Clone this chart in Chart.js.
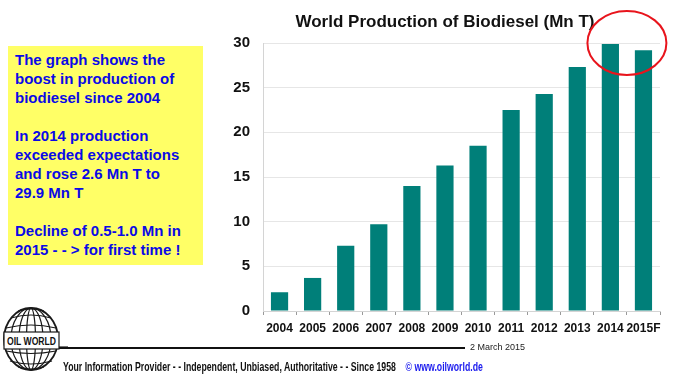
<!DOCTYPE html>
<html>
<head>
<meta charset="utf-8">
<script src="https://cdn.jsdelivr.net/npm/chart.js@4"></script>
<style>
  body { margin: 0; background: #fff; font-family: 'Liberation Sans', Arial, sans-serif; }
  #wrap { position: relative; width: 677px; height: 377px; overflow: hidden; }
  #chartBox { position: absolute; left: 230px; top: 0; width: 447px; height: 377px; }
  .note {
    position: absolute; left: 8px; top: 46px; width: 188px; height: 215px;
    background: #ffff66; color: #0a0ae6; font-weight: bold; font-size: 15px;
    line-height: 19px; padding: 4px 0 0 7px; white-space: nowrap;
  }
  .rule { position: absolute; left: 58px; top: 347px; width: 407px; height: 2px; background: #111; }
  .rule2 { position: absolute; left: 56px; top: 346px; width: 12px; height: 3px; background: #777; }
  .date { position: absolute; left: 470px; top: 342px; font-size: 9px; color: #222; }
  .foot {
    position: absolute; left: 63px; top: 360px; font-weight: bold; font-size: 12px; color: #111;
    white-space: nowrap; transform-origin: 0 0;
  }
  .foot span { color: #1a1aee; margin-left: 10px; }
  svg { position: absolute; left: 0; top: 300px; }
</style>
</head>
<body>
<div id="wrap">
  <div class="note">The graph shows the<br>boost in production of<br>biodiesel since 2004<br><br>In 2014 production<br>exceeded expectations<br>and rose 2.6 Mn T to<br>29.9 Mn T<br><br>Decline of 0.5-1.0 Mn in<br>2015 - - &gt; for first time !</div>
  <div id="chartBox"><canvas id="chart"></canvas></div>
  <div class="rule2"></div>
  <div class="rule"></div>
  <div class="date">2 March 2015</div>
  <div class="foot" id="foot">Your Information Provider - - Independent, Unbiased, Authoritative - - Since 1958 <span>© www.oilworld.de</span></div>
  <svg width="64" height="77" viewBox="0 300 64 77">
    <g fill="none" stroke="#1a1a1a" stroke-width="1.2">
      <ellipse cx="31" cy="339" rx="27" ry="31" stroke-width="1.8"/>
      <ellipse cx="31" cy="339" rx="20" ry="31"/>
      <ellipse cx="31" cy="339" rx="12" ry="31"/>
      <ellipse cx="31" cy="339" rx="4.5" ry="31"/>
      <path d="M11 318 Q31 312 51 318"/>
      <path d="M6 328 Q31 322 56 328"/>
      <path d="M6 351 Q31 356 56 351"/>
      <path d="M10 361 Q31 367 52 361"/>
      <path d="M18 367 Q31 371 44 367"/>
      <path d="M18 311 Q31 307 44 311"/>
    </g>
    <rect x="4" y="332" width="55" height="17" fill="#fff" stroke="#1a1a1a" stroke-width="1.2"/>
    <text x="7" y="344.5" textLength="49" lengthAdjust="spacingAndGlyphs" font-family="Liberation Sans, Arial" font-weight="bold" font-size="11" fill="#111">OIL WORLD</text>
  </svg>
</div>
<script>
const years = ['2004', '2005', '2006', '2007', '2008', '2009', '2010', '2011', '2012', '2013', '2014', '2015F']
const production = [2.1, 3.7, 7.3, 9.7, 14.0, 16.3, 18.5, 22.5, 24.3, 27.3, 29.9, 29.2]
const yTicks = [0, 5, 10, 15, 20, 25, 30]

// squeeze the footer line to the width it has in the original
const foot = document.getElementById('foot')
foot.style.transform = 'scaleX(' + (420 / foot.offsetWidth) + ')'

// red circle round the last two bars
const circlePlugin = {
  id: 'circle',
  afterDraw(chart) {
    const { ctx, scales } = chart
    const cx = (scales.x.getPixelForValue(10) + scales.x.getPixelForValue(11)) / 2
    const cy = scales.y.getPixelForValue(30)
    ctx.save()
    ctx.strokeStyle = '#e8141c'
    ctx.lineWidth = 2
    ctx.beginPath()
    ctx.ellipse(cx, cy, 39.5, 32, 0, 0, Math.PI * 2)
    ctx.stroke()
    ctx.restore()
  }
}

new Chart(document.getElementById('chart'), {
  type: 'bar',
  data: {
    labels: years,
    datasets: [{
      data: production,
      backgroundColor: '#007f79',
      barPercentage: 0.52,
      categoryPercentage: 1
    }]
  },
  options: {
    responsive: true,
    maintainAspectRatio: false,
    animation: false,
    layout: { padding: { left: 0, right: 17, top: 0, bottom: 0 } },
    plugins: {
      legend: { display: false },
      tooltip: { enabled: false },
      title: {
        display: true,
        text: 'World Production of Biodiesel (Mn T)',
        color: '#111',
        font: { family: "'Liberation Sans', Arial", size: 17, weight: 'bold' },
        padding: { top: 12, bottom: 10.6 }
      }
    },
    scales: {
      x: {
        afterFit: s => { s.height = 66 },
        grid: { offset: true, drawOnChartArea: false, color: '#999', tickLength: 4 },
        border: { color: '#d4d4d4' },
        ticks: {
          color: '#111', padding: 6, autoSkip: false, maxRotation: 0, minRotation: 0,
          font: { family: "'Liberation Sans', Arial", size: 12, weight: 'bold' }
        }
      },
      y: {
        min: 0, max: 30,
        afterFit: s => { s.width = 33 },
        afterBuildTicks: s => { s.ticks = yTicks.map(v => ({ value: v })) },
        grid: { color: '#e6e6e6', drawTicks: false },
        border: { color: '#d4d4d4' },
        ticks: {
          color: '#111', padding: 13,
          font: { family: "'Liberation Sans', Arial", size: 15, weight: 'bold' }
        }
      }
    }
  },
  plugins: [circlePlugin]
})
</script>
</body>
</html>
